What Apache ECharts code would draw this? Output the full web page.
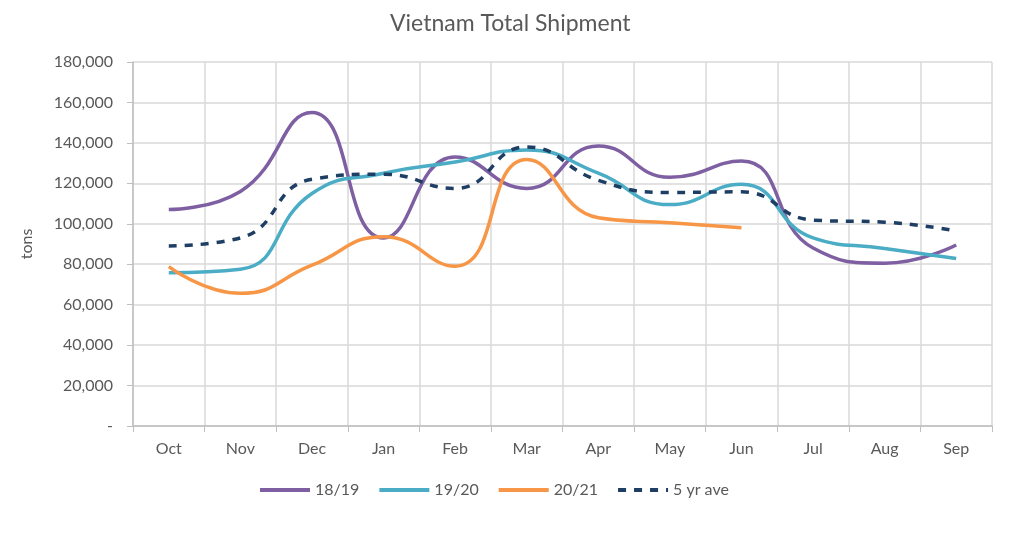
<!DOCTYPE html>
<html><head><meta charset="utf-8">
<script src="https://cdn.jsdelivr.net/npm/echarts@6/dist/echarts.min.js"></script>
<style>html,body{margin:0;padding:0;background:#fff}#c{width:1024px;height:536px}</style>
</head><body><div id="c"></div>
<script>
var categories = ['Oct','Nov','Dec','Jan','Feb','Mar','Apr','May','Jun','Jul','Aug','Sep'];
var s1819 = [107000,116000,155000,93000,133000,117500,138500,123000,131000,88000,80500,89500];
var s1920 = [75800,77500,115000,125000,130500,136500,125000,109500,119500,93000,87800,82800];
var s2021 = [78800,65600,79500,93600,79000,131800,103000,100500,98000,null,null,null];
var s5yr  = [89000,93000,122000,124500,117500,138000,121500,115500,115800,101800,100800,96500];
var seriesNames = ['18/19','19/20','20/21','5 yr ave'];
var yTicks = {min:0, max:180000, interval:20000};

var chart = echarts.init(document.getElementById('c'));
var font = 'Lato, "Open Sans", sans-serif';
var txt = '#595959';
function mk(name, data, color, dashed){
  return {name:name, type:'line', data:data, smooth:0.5, symbol:'none',
    connectNulls:false,
    lineStyle:{color:color, width:3.5, type: dashed ? [8,8] : 'solid', cap:'butt'},
    itemStyle:{color:color}};
}
chart.setOption({
  animation:false,
  textStyle:{fontFamily:font},
  title:{text:'Vietnam Total Shipment', left:385, top:7,
    textStyle:{fontFamily:font, fontSize:23, fontWeight:'normal', color:txt}},
  grid:{left:133, right:32, top:62, bottom:110},
  legend:{bottom:33, left:253, itemWidth:50, itemHeight:4, itemGap:18,
    itemStyle:{opacity:0},
    lineStyle:{width:4},
    textStyle:{fontFamily:font, fontSize:16, color:txt},
    data:seriesNames},
  xAxis:{type:'category', data:categories, boundaryGap:true,
    axisLine:{lineStyle:{color:'#bfbfbf', width:1.5}},
    axisTick:{show:true, length:6, lineStyle:{color:'#bfbfbf'}},
    splitLine:{show:true, lineStyle:{color:'#d9d9d9', width:1.5}},
    axisLabel:{fontFamily:font, fontSize:16, color:txt, margin:15}},
  yAxis:{type:'value', min:yTicks.min, max:yTicks.max, interval:yTicks.interval,
    name:'tons', nameLocation:'middle', nameGap:98, nameRotate:90,
    nameTextStyle:{fontFamily:font, fontSize:16, color:txt},
    axisLine:{show:true, lineStyle:{color:'#bfbfbf', width:1.5}},
    axisTick:{show:true, length:6, lineStyle:{color:'#bfbfbf'}},
    splitLine:{lineStyle:{color:'#d9d9d9', width:1.5}},
    axisLabel:{fontFamily:font, fontSize:16, color:txt, margin:20,
      formatter:function(v){ return v===0 ? '-' : v.toString().replace(/\B(?=(\d{3})+(?!\d))/g, ','); }}},
  series:[
    mk(seriesNames[0], s1819, '#7e5fa2', false),
    mk(seriesNames[1], s1920, '#4aacc5', false),
    mk(seriesNames[2], s2021, '#f79646', false),
    mk(seriesNames[3], s5yr, '#1f3e64', true)
  ]
});
</script></body></html>
